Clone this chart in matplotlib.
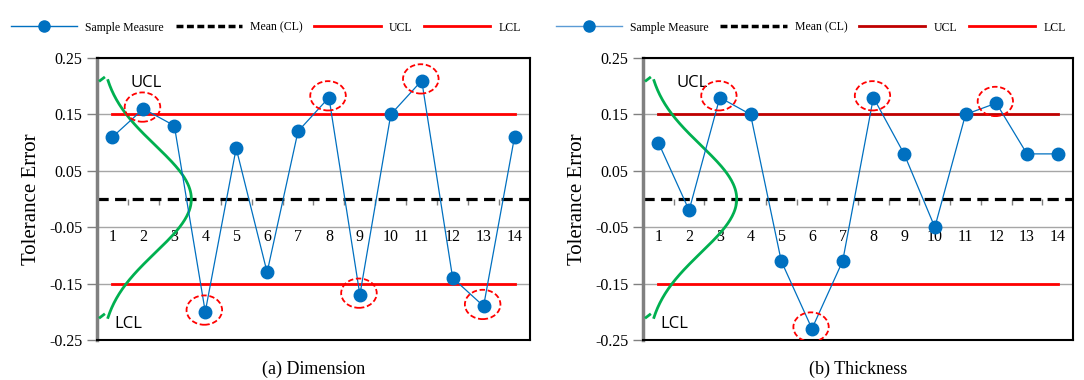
import numpy as np
import matplotlib.pyplot as plt
from matplotlib.lines import Line2D
from matplotlib.patches import Ellipse

plt.rcParams['font.family'] = ['Liberation Serif', 'DejaVu Serif']

samples = list(range(1, 15))
dimension = [0.11, 0.16, 0.13, -0.20, 0.09, -0.13, 0.12, 0.18, -0.17, 0.15, 0.21, -0.14, -0.19, 0.11]
thickness = [0.10, -0.02, 0.18, 0.15, -0.11, -0.23, -0.11, 0.18, 0.08, -0.05, 0.15, 0.17, 0.08, 0.08]
outliers_a = [2, 4, 8, 9, 11, 13]
outliers_b = [3, 6, 8, 12]
mean_cl = 0.0
ucl = 0.15
lcl = -0.15
yticks = [-0.25, -0.15, -0.05, 0.05, 0.15, 0.25]
captions = ['(a) Dimension', '(b) Thickness']

fig = plt.figure(figsize=(10.84, 3.8), dpi=100)
ax_a = fig.add_axes([0.0895, 0.1053, 0.3994, 0.742])
ax_b = fig.add_axes([0.5932, 0.1053, 0.3967, 0.742])

blue = '#0070C0'


def draw_panel(ax, vals, outl, ucl_col, lcl_col, caption, leg_line_col):
    ax.set_xlim(0.5, 14.5)
    ax.set_ylim(-0.25, 0.25)
    ax.set_yticks(yticks)
    ax.set_yticklabels(['%.2f' % t for t in yticks], fontsize=11.5)
    ax.set_xticks([])
    ax.tick_params(axis='y', length=7, color='#808080', width=1)
    for t in yticks:
        ax.axhline(t, color='#A6A6A6', lw=1, zorder=0)
    for s in ['top', 'right', 'bottom']:
        ax.spines[s].set_color('black')
        ax.spines[s].set_linewidth(1.5)
    ax.spines['left'].set_color('#808080')
    ax.spines['left'].set_linewidth(2.5)

    # category axis crossing at zero
    bounds = np.arange(1.5, 14.5, 1.0)
    ax.vlines(bounds, -0.01, 0, color='#808080', lw=1, zorder=1)
    for s in samples:
        ax.text(s, -0.067, str(s), ha='center', va='center', fontsize=11.5)

    ax.axhline(mean_cl, color='black', lw=2.3, ls=(0, (3.5, 2)), zorder=2)
    ax.plot([samples[0], samples[-1]], [ucl, ucl], color=ucl_col, lw=2, zorder=2)
    ax.plot([samples[0], samples[-1]], [lcl, lcl], color=lcl_col, lw=2, zorder=2)

    ax.plot(samples, vals, color=blue, lw=0.9, marker='o', ms=9,
            markerfacecolor=blue, markeredgecolor=blue, zorder=4)

    for o in outl:
        ax.add_patch(Ellipse((o - 0.03, vals[o - 1] + 0.003), 1.15, 0.052, fill=False,
                             ec='#FF0000', lw=1.3, ls=(0, (3, 1.5)), zorder=5))

    # normal distribution sketch
    yy = np.linspace(-0.21, 0.21, 200)
    xx = 0.6 + 2.95 * np.exp(-yy ** 2 / (2 * 0.095 ** 2))
    ax.plot(xx, yy, color='#00B050', lw=2, zorder=3)
    ax.plot([0.6, 0.72], [0.21, 0.215], color='#00B050', lw=2, zorder=3)
    ax.plot([0.6, 0.72], [-0.21, -0.205], color='#00B050', lw=2, zorder=3)

    ax.text(1.58, 0.205, 'UCL', fontsize=12, family=['Open Sans', 'DejaVu Sans'], va='center')
    ax.text(1.05, -0.222, 'LCL', fontsize=12, family=['Open Sans', 'DejaVu Sans'], va='center')

    ax.set_ylabel('Tolerance Error', fontsize=15, labelpad=6)
    ax.text(0.5, -0.075, caption, transform=ax.transAxes, ha='center', va='top', fontsize=13)

    handles = [
        Line2D([], [], color=leg_line_col, lw=1, marker='o', ms=8,
               markerfacecolor=blue, markeredgecolor=blue),
        Line2D([], [], color='black', lw=2.5, ls=(0, (2, 1))),
        Line2D([], [], color=ucl_col, lw=2),
        Line2D([], [], color=lcl_col, lw=2),
    ]
    ax.legend(handles, ['Sample Measure', 'Mean (CL)', 'UCL', 'LCL'], ncol=4,
              loc='lower center', bbox_to_anchor=(0.39, 1.07), frameon=False,
              fontsize=8.5, handlelength=5.6, columnspacing=1.0, handletextpad=0.7,
              borderaxespad=0)


draw_panel(ax_a, dimension, outliers_a, '#FF0000', '#FF0000', captions[0], blue)
draw_panel(ax_b, thickness, outliers_b, '#C00000', '#FF0000', captions[1], '#5B9BD5')

fig.savefig('out.png', dpi=100)
